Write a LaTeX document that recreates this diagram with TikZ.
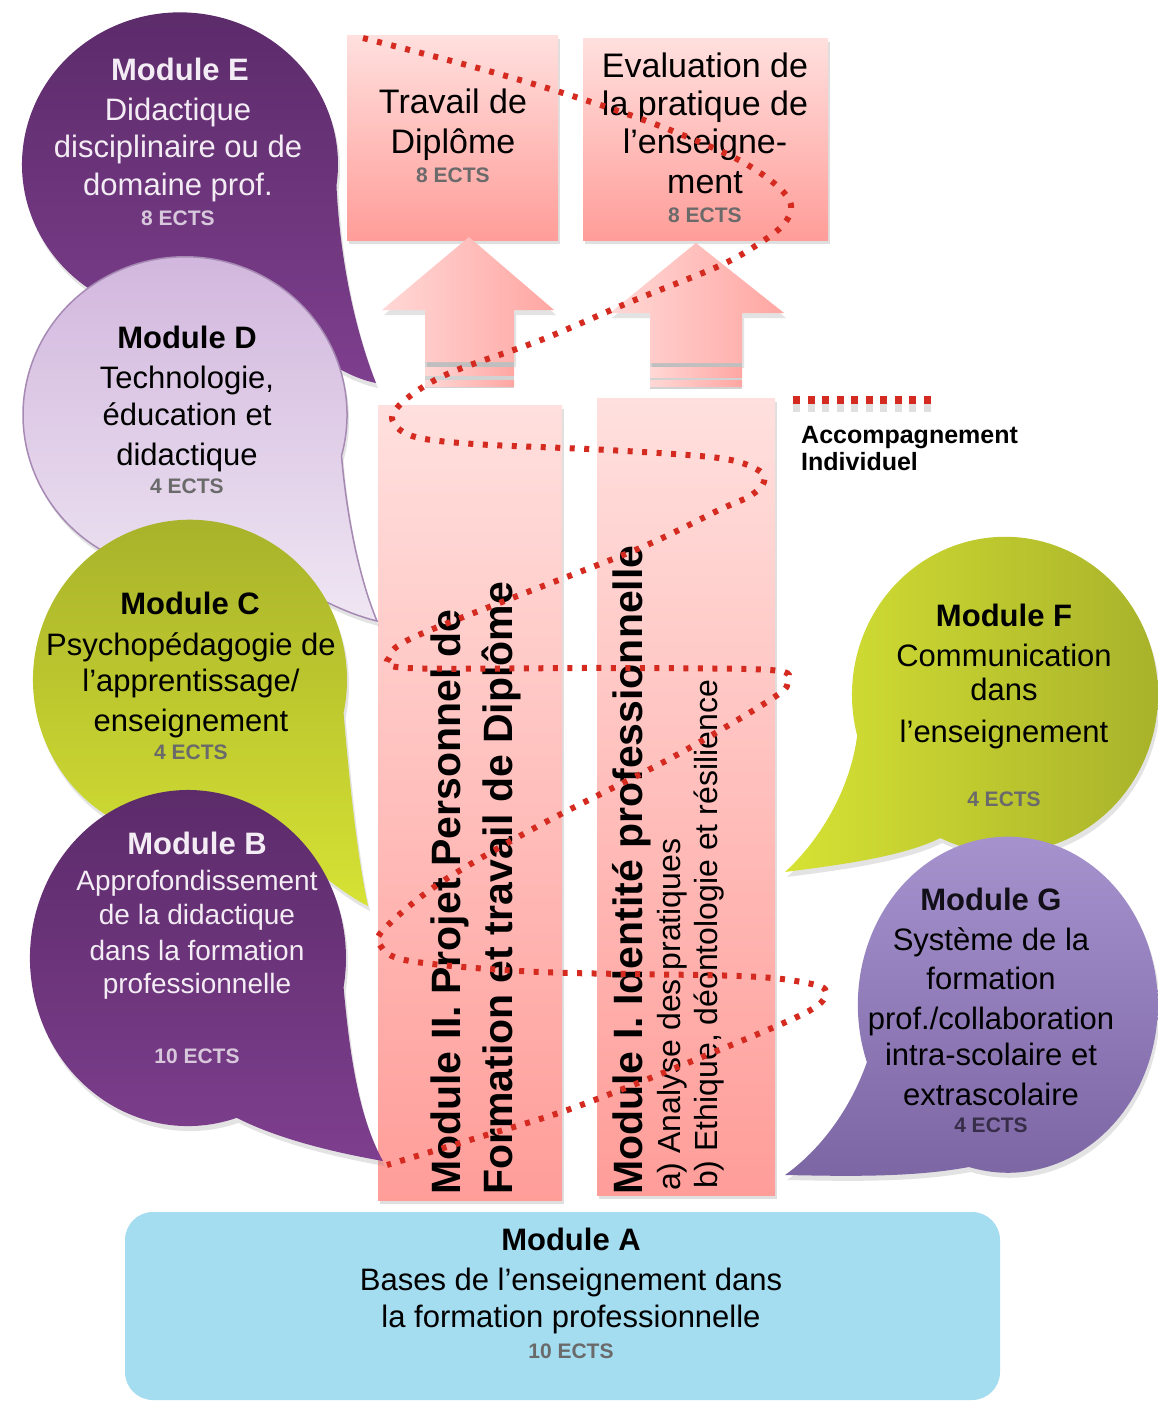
\documentclass[tikz,border=0pt]{standalone}
\usepackage{fontspec}
\setmainfont{Liberation Sans}
\usetikzlibrary{shadows}
\definecolor{purpD}{HTML}{5A2A68}
\definecolor{purpL}{HTML}{7E3F8E}
\definecolor{lavT}{HTML}{D0B4DC}
\definecolor{lavB}{HTML}{EFE6F3}
\definecolor{lavE}{HTML}{A68AB4}
\definecolor{oliveD}{HTML}{A6B02A}
\definecolor{oliveL}{HTML}{D6E234}
\definecolor{violT}{HTML}{A895D0}
\definecolor{violB}{HTML}{7A64A2}
\definecolor{pinkT}{HTML}{FFE0DE}
\definecolor{pinkB}{HTML}{FF9D99}
\definecolor{arrL}{HTML}{FFD8D6}
\definecolor{arrR}{HTML}{FFA6A2}
\definecolor{skyA}{HTML}{A4DCF0}
\definecolor{dotred}{HTML}{D42A20}
\definecolor{whiteT}{HTML}{F4ECF4}
\definecolor{ectsW}{HTML}{D8C8DC}
\definecolor{ectsG}{HTML}{6A6A6A}
\begin{document}
\begin{tikzpicture}[x=1pt,y=-1pt,
  txt/.style={font=\fontsize{31}{37}\selectfont, anchor=base, inner sep=0pt},
  btxt/.style={font=\bfseries\fontsize{31}{37}\selectfont, anchor=base, inner sep=0pt},
  stxt/.style={font=\fontsize{28}{33}\selectfont, anchor=base, inner sep=0pt},
  ttxt/.style={font=\fontsize{34}{38}\selectfont, anchor=base, inner sep=0pt},
  ects/.style={font=\bfseries\fontsize{21}{25}\selectfont, anchor=base, inner sep=0pt},
  vbig/.style={font=\bfseries\fontsize{41}{48}\selectfont, anchor=base west, rotate=90, inner sep=0pt},
  vsmall/.style={font=\fontsize{32}{36}\selectfont, anchor=base west, rotate=90, inner sep=0pt},
  pinkbox/.style={top color=pinkT, bottom color=pinkB, drop shadow={shadow xshift=2pt, shadow yshift=-4pt, opacity=0.25}},
  blockarrow/.style={left color=arrL, right color=arrR},
  shade/.style={drop shadow={shadow xshift=2pt, shadow yshift=-5pt, opacity=0.22}},
  dots/.style={dotred, line width=6pt, dash pattern=on 5pt off 9.5pt},
  legtxt/.style={font=\bfseries\fontsize{25}{30}\selectfont, anchor=base west, inner sep=0pt},
]
\path[use as bounding box] (0,0) rectangle (1158,1403);
\clip (0,0) rectangle (1158,1403);
\fill[white] (0,0) rectangle (1158,1403);

% ---- top boxes
\path[pinkbox] (347,35) rectangle (558,240);
\path[pinkbox] (583,38) rectangle (828,240);

% ---- block arrows
\fill[gray!35] (425,362) rectangle (514,388);
\path[blockarrow, shade] (469,237) -- (554,310) -- (514,310) -- (514,362) -- (425,362) -- (425,310) -- (382,310) -- cycle;
\fill[blockarrow] (425,367) rectangle (514,375);
\fill[blockarrow] (425,380) rectangle (514,386);
\fill[gray!35] (650,363) rectangle (742,389);
\path[blockarrow, shade] (696,243) -- (784,313) -- (742,313) -- (742,363) -- (650,363) -- (650,313) -- (610,313) -- cycle;
\fill[blockarrow] (650,367) rectangle (742,377);
\fill[blockarrow] (650,380) rectangle (742,386);

% ---- tall boxes
\path[pinkbox] (378,405) rectangle (562,1200);
\path[pinkbox] (597,398) rectangle (775,1195);

% ---- module A
\path[fill=skyA, rounded corners=28pt] (125,1212) rectangle (1000,1400);

% ---- left bubbles
\path[top color=purpD, bottom color=purpL, shade] (259,296) arc[start angle=60, end angle=368, x radius=158, y radius=152]
  .. controls (340,260) and (355,330) .. (376,383) .. controls (345,377) and (300,350) .. (259,296) -- cycle;
\path[top color=lavT, bottom color=lavB, draw=lavE, line width=1.5pt, shade] (253.5,558) arc[start angle=65, end angle=375, x radius=162, y radius=158]
  .. controls (347,520) and (360,580) .. (377,621) .. controls (340,612) and (300,590) .. (253.5,558) -- cycle;
\path[top color=oliveD, bottom color=oliveL, shade] (263.7,821) arc[start angle=62, end angle=372, x radius=157, y radius=160]
  .. controls (350,790) and (358,860) .. (368,906) .. controls (345,895) and (300,860) .. (263.7,821) -- cycle;
\path[top color=purpD, bottom color=purpL, shade] (236.8,1117.8) arc[start angle=72, end angle=370, x radius=158, y radius=168]
  .. controls (350,1060) and (360,1120) .. (383,1161) .. controls (320,1150) and (270,1135) .. (236.8,1117.8) -- cycle;

% ---- right bubbles
\path[left color=oliveL, right color=oliveD, shade] (940.3,838) arc[start angle=115, end angle=-195, x radius=153, y radius=158]
  .. controls (850,790) and (820,840) .. (785,872) .. controls (830,866) and (900,858) .. (940.3,838) -- cycle;
\path[top color=violT, bottom color=violB, shade] (969,1167) arc[start angle=105, end angle=-200, x radius=150, y radius=168]
  .. controls (850,1110) and (820,1150) .. (785,1175) .. controls (840,1176) and (910,1178) .. (969,1167) -- cycle;

% ---- texts: E
\node[btxt, whiteT] (e1) at (180,80) {Module E};
\node[txt, whiteT] (e2) at (178,120) {Didactique};
\node[txt, whiteT] (e3) at (178,157) {disciplinaire ou de};
\node[txt, whiteT] (e4) at (178,195) {domaine prof.};
\node[ects, ectsW] (e5) at (178,225) {8 ECTS};
% D
\node[btxt] (d1) at (187,348) {Module D};
\node[txt] (d2) at (187,388) {Technologie,};
\node[txt] (d3) at (187,425) {éducation et};
\node[txt] (d4) at (187,465) {didactique};
\node[ects, ectsG] (d5) at (187,493) {4 ECTS};
% C
\node[btxt] (c1) at (190,614) {Module C};
\node[txt] (c2) at (191,655) {Psychopédagogie de};
\node[txt] (c3) at (191,691) {l'apprentissage/};
\node[txt] (c4) at (191,731) {enseignement};
\node[ects, ectsG] (c5) at (191,759) {4 ECTS};
% B
\node[btxt, whiteT] (b1) at (197,854) {Module B};
\node[stxt, whiteT] (b2) at (197,890) {Approfondissement};
\node[stxt, whiteT] (b3) at (197,924) {de la didactique};
\node[stxt, whiteT] (b4) at (197,960) {dans la formation};
\node[stxt, whiteT] (b5) at (197,993) {professionnelle};
\node[ects, ectsW] (b6) at (197,1063) {10 ECTS};
% F
\node[btxt] (f1) at (1004,626) {Module F};
\node[txt] (f2) at (1004,666) {Communication};
\node[txt] (f3) at (1004,700) {dans};
\node[txt] (f4) at (1004,742) {l'enseignement};
\node[ects, ectsG] (f5) at (1004,806) {4 ECTS};
% G
\node[btxt, black!85!violB] (g1) at (991,910) {Module G};
\node[txt] (g2) at (991,950) {Système de la};
\node[txt] (g3) at (991,989) {formation};
\node[txt] (g4) at (991,1029) {prof./collaboration};
\node[txt] (g5) at (991,1065) {intra-scolaire et};
\node[txt] (g6) at (991,1105) {extrascolaire};
\node[ects, black!55!violB] (g7) at (991,1132) {4 ECTS};
% A
\node[btxt] (a1) at (571,1250) {Module A};
\node[txt] (a2) at (571,1290) {Bases de l'enseignement dans};
\node[txt] (a3) at (571,1327) {la formation professionnelle};
\node[ects, ectsG] (a4) at (571,1358) {10 ECTS};
% top boxes
\node[ttxt] (t1) at (453,113) {Travail de};
\node[ttxt] (t2) at (453,153) {Diplôme};
\node[ects, ectsG] (t3) at (453,182) {8 ECTS};
\node[ttxt] (v1) at (705,77) {Evaluation de};
\node[ttxt] (v2) at (705,115) {la pratique de};
\node[ttxt] (v3) at (705,153) {l'enseigne-};
\node[ttxt] (v4) at (705,193) {ment};
\node[ects, ectsG] (v5) at (705,222) {8 ECTS};
% vertical texts
\node[vbig] (m2a) at (460,1195) {Module II. Projet Personnel de};
\node[vbig] (m2b) at (512,1195) {Formation et travail de Diplôme};
\node[vbig] (m1a) at (642,1195) {Module I. Identité professionnelle};
\node[vsmall] (m1b) at (680,1191) {a) Analyse des pratiques};
\node[vsmall] (m1c) at (717,1189) {b) Ethique, déontologie et résilience};

% legend
\coordinate (lg1) at (793,400);
\coordinate (lg2) at (935,400);
\coordinate (lg1s) at (793,408);
\coordinate (lg2s) at (935,408);
\draw[black!12, line width=8pt, dash pattern=on 7pt off 7.5pt] (lg1s) -- (lg2s);
\draw[dotred, line width=8pt, dash pattern=on 7pt off 7.5pt] (lg1) -- (lg2);
\node[legtxt] (lgt1) at (801,443) {Accompagnement};
\node[legtxt] (lgt2) at (801,470) {Individuel};

% dotted path
\draw[dots] plot[smooth, tension=0.55] coordinates {
 (363,38) (474,67) (563,93) (652,123) (733,157) (775,184) (791,205) (784,224) (760,243) (719,266)
 (630,302) (541,340) (452,372) (410,396) (392,418) (412,436) (474,444) (608,450) (719,458) (758,470)
 (764,482) (750,496) (719,510) (640,548) (507,600) (412,638) (390,656) (408,668) (607,668) (770,670)
 (787,681) (773,698) (673,757) (540,825) (440,883) (385,928) (380,945) (410,961) (540,972) (740,976)
 (807,983) (826,992) (807,1012) (707,1055) (573,1108) (473,1139) (387,1165)};
\end{tikzpicture}
\end{document}
